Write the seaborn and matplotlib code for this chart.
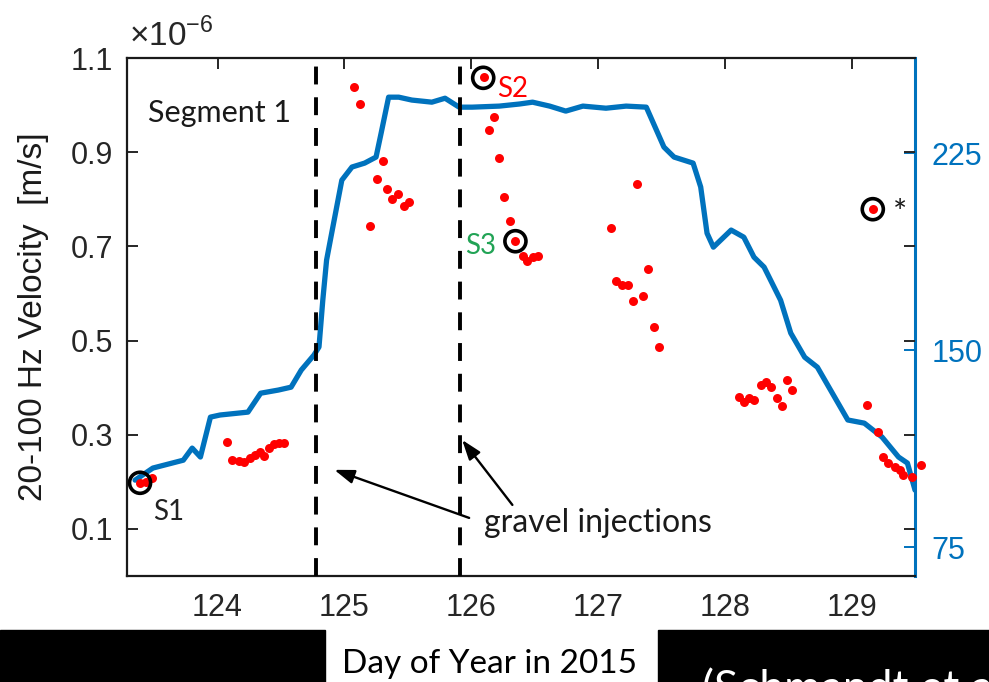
import numpy as np
import matplotlib
matplotlib.use("Agg")
import matplotlib.pyplot as plt
from matplotlib.patches import Rectangle
import seaborn as sns

# blue curve, right axis
line_day = [123.35, 123.49, 123.73, 123.80, 123.865, 123.944, 124.02, 124.24, 124.34, 124.48,
            124.58, 124.66, 124.76, 124.80, 124.83, 124.86, 124.90, 124.98, 125.06, 125.16,
            125.25, 125.29, 125.349, 125.429, 125.532, 125.690, 125.794, 125.905, 126.008, 126.222,
            126.381, 126.484, 126.619, 126.746, 126.881, 127.063, 127.222, 127.381, 127.52, 127.60,
            127.75, 127.81, 127.86, 127.91, 128.05, 128.15, 128.23, 128.31, 128.44, 128.52,
            128.63, 128.73, 128.97, 129.10, 129.24, 129.37, 129.44, 129.50]
line_val = [100.5, 105.1, 108.1, 112.7, 109.3, 124.5, 125.3, 126.4, 133.6, 134.8,
            135.9, 142.4, 148.1, 151.2, 169.0, 184.3, 194.5, 214.7, 219.7, 221.2,
            223.5, 232.6, 246.3, 246.3, 245.2, 244.4, 245.9, 242.5, 242.5, 242.9,
            243.7, 244.4, 242.9, 241.0, 242.9, 242.1, 242.9, 242.5, 227.3, 223.5,
            221.2, 212.1, 194.5, 189.2, 195.7, 193.0, 185.4, 181.6, 169.0, 156.5,
            147.3, 143.5, 123.4, 122.2, 116.9, 109.3, 107.0, 96.7]

# red dots, velocity in 1e-6 m/s
dot_day = [123.389, 123.437, 123.484,
           124.071, 124.111, 124.167, 124.206, 124.254, 124.294, 124.333, 124.365, 124.405, 124.444,
           124.484, 124.524,
           125.079, 125.127, 125.206, 125.302, 125.254, 125.333, 125.373, 125.421, 125.468, 125.508,
           126.103, 126.183, 126.143, 126.222, 126.262, 126.310, 126.349, 126.405, 126.444, 126.484,
           126.524,
           127.103, 127.310, 127.143, 127.190, 127.238, 127.278, 127.357, 127.397, 127.444, 127.484,
           128.111, 128.151, 128.190, 128.230, 128.286, 128.325, 128.365, 128.413, 128.452, 128.492,
           128.532,
           129.119, 129.206, 129.246, 129.286, 129.341, 129.381, 129.405, 129.476, 129.545,
           129.167]
dot_vel = [0.198, 0.200, 0.209,
           0.285, 0.247, 0.245, 0.243, 0.251, 0.257, 0.264, 0.255, 0.272, 0.281,
           0.283, 0.283,
           1.038, 1.002, 0.743, 0.881, 0.843, 0.821, 0.800, 0.811, 0.785, 0.794,
           1.060, 0.974, 0.947, 0.887, 0.804, 0.753, 0.711, 0.679, 0.670, 0.677,
           0.679,
           0.740, 0.832, 0.626, 0.619, 0.617, 0.583, 0.594, 0.651, 0.528, 0.487,
           0.381, 0.370, 0.377, 0.374, 0.406, 0.413, 0.402, 0.379, 0.360, 0.417,
           0.396,
           0.364, 0.306, 0.253, 0.240, 0.232, 0.226, 0.215, 0.211, 0.236,
           0.779]

# circled events S1, S2, S3, *
event_day = [123.389, 126.095, 126.349, 129.167]
event_vel = [0.198, 1.058, 0.711, 0.779]

injection_day = [124.78, 125.91]

left_ticks = [0.1, 0.3, 0.5, 0.7, 0.9, 1.1]
right_ticks = [75, 150, 225]
day_ticks = [124, 125, 126, 127, 128, 129]

blue = '#0072BD'
black = '#000000'

sns.set_theme(style="white", color_codes=False)
plt.rcParams['font.family'] = ['Liberation Sans', 'DejaVu Sans']
plt.rcParams['mathtext.fontset'] = 'custom'
plt.rcParams['mathtext.rm'] = 'Liberation Sans'
calibri = ['Lato', 'DejaVu Sans']

fig = plt.figure(figsize=(9.89, 6.82), dpi=100)
ax = fig.add_axes([0.1284, 0.1554, 0.7968, 0.7595])
ax2 = ax.twinx()
ax.set_zorder(ax2.get_zorder() + 1)
ax.patch.set_visible(False)

sns.lineplot(x=line_day, y=line_val, ax=ax2, color=blue, lw=3.8)
sns.scatterplot(x=dot_day, y=dot_vel, ax=ax, color='#ff0000', s=42, linewidth=0, clip_on=False, zorder=4)
ax.scatter(event_day, event_vel, s=230, facecolors='none', edgecolors=black, linewidths=2.6, zorder=5)
for d in injection_day:
    ax.axvline(d, color=black, lw=2.8, ls=(0, (4.6, 3.3)), zorder=3)

ax.set_xlim(123.286, 129.5)
ax.set_ylim(0, 1.1)
ax2.set_ylim(64.0, 261.2)
ax.set_xticks(day_ticks)
ax.set_yticks(left_ticks)
ax.set_yticklabels([f'{t:.1f}' for t in left_ticks])
ax2.set_yticks(right_ticks)

ax.tick_params(axis='both', direction='in', length=8, width=1.4, labelsize=22, colors='#262626')
ax.tick_params(axis='x', top=True, pad=12)
ax.tick_params(axis='y', right=True, labelright=False, pad=10)
ax2.tick_params(axis='y', direction='in', length=8, width=1.4, labelsize=22, colors=blue, pad=12)

for s in ['left', 'top', 'bottom']:
    ax.spines[s].set_color('#1a1a1a')
    ax.spines[s].set_linewidth(1.6)
ax.spines['right'].set_visible(False)
for s in ['left', 'top', 'bottom']:
    ax2.spines[s].set_visible(False)
ax2.spines['right'].set_color(blue)
ax2.spines['right'].set_linewidth(2.2)
ax2.set_ylabel('')
ax.set_xlabel('')

ax.set_ylabel('20-100 Hz Velocity  [m/s]', fontsize=24, va='center', color='#1a1a1a')
ax.yaxis.set_label_coords(-0.118, 0.5)
ax.text(0.003, 1.01, r'$\times10^{-6}$', transform=ax.transAxes, fontsize=24, ha='left', va='bottom',
        color='#262626')

ax.text(123.452, 0.964, 'Segment 1', fontsize=22, family=calibri, va='baseline', color='#1a1a1a')
ax.text(123.492, 0.119, 'S1', fontsize=20, family=calibri, color='#222222', va='baseline')
ax.text(126.206, 1.017, 'S2', fontsize=20, family=calibri, color='#ff0000', va='baseline')
ax.text(125.952, 0.683, 'S3', fontsize=20, family=calibri, color='#21a355', va='baseline')
ax.text(129.381, 0.768, '*', fontsize=24, family=calibri, ha='center', va='center', color='#1a1a1a')
ax.text(126.103, 0.094, 'gravel injections', fontsize=23, family=calibri, va='baseline', color='#1a1a1a')
arrow = dict(arrowstyle='-|>,head_length=1.0,head_width=0.35', color=black, lw=1.7, shrinkA=0, shrinkB=0)
ax.annotate('', xy=(124.921, 0.2255), xytext=(125.984, 0.1234), arrowprops=arrow)
ax.annotate('', xy=(125.929, 0.289), xytext=(126.325, 0.151), arrowprops=arrow)

# slide bands at the bottom
fig.patches.append(Rectangle((0, 0), 325 / 989, 52 / 682, transform=fig.transFigure, color=black, zorder=0))
fig.patches.append(Rectangle((658 / 989, 0), 331 / 989, 52 / 682, transform=fig.transFigure, color=black, zorder=0))
fig.text(489 / 989, 9 / 682, 'Day of Year in 2015', fontsize=24, family=calibri, ha='center', va='baseline',
         color=black)
fig.text(702 / 989, -20 / 682, '(Schmandt et al.)', fontsize=32, family=calibri, color='white', ha='left',
         va='baseline')

fig.savefig('out.png', dpi=100)
